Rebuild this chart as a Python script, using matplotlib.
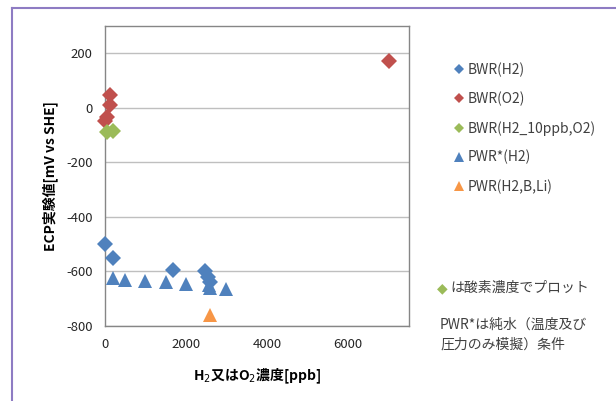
import matplotlib
matplotlib.use("Agg")
import matplotlib.pyplot as plt
from matplotlib.lines import Line2D

plt.rcParams['font.family'] = ['Noto Sans CJK JP', 'DejaVu Sans']
plt.rcParams['axes.unicode_minus'] = False

bwr_h2_x = [0, 190, 1680, 2460, 2550, 2600]
bwr_h2_y = [-500, -550, -595, -600, -620, -640]

bwr_o2_x = [120, 120, 40, 0, 7000]
bwr_o2_y = [48, 10, -32, -50, 170]

bwr_mix_x = [50, 200]
bwr_mix_y = [-87, -85]

pwr_h2_x = [190, 490, 985, 1500, 1990, 2560, 2600, 2975]
pwr_h2_y = [-625, -632, -635, -638, -647, -650, -660, -663]

pwr_bli_x = [2580]
pwr_bli_y = [-760]

series_names = ["BWR(H2)", "BWR(O2)", "BWR(H2_10ppb,O2)", "PWR*(H2)", "PWR(H2,B,Li)"]
series_colors = ["#4F81BD", "#C0504D", "#9BBB59", "#4F81BD", "#F79646"]
series_markers = ["D", "D", "D", "^", "^"]

y_ticks = [-800, -600, -400, -200, 0, 200]
x_ticks = [0, 2000, 4000, 6000]

fig = plt.figure(figsize=(6.16, 4.01), dpi=100)
ax = fig.add_axes([105 / 616, 1 - 326 / 401, 304 / 616, 300 / 401])

data = [(bwr_h2_x, bwr_h2_y), (bwr_o2_x, bwr_o2_y), (bwr_mix_x, bwr_mix_y),
        (pwr_h2_x, pwr_h2_y), (pwr_bli_x, pwr_bli_y)]
for (xs, ys), name, c, m in zip(data, series_names, series_colors, series_markers):
    ms = 8 if m == "D" else 10
    ax.plot(xs, ys, linestyle="none", marker=m, color=c, markersize=ms,
            markeredgewidth=0, label=name, clip_on=False, zorder=3)

ax.set_xlim(0, 7500)
ax.set_ylim(-800, 300)
ax.set_xticks(x_ticks)
ax.set_yticks(y_ticks)
ax.yaxis.grid(True, color="#BFBFBF", linewidth=1)
ax.set_axisbelow(True)
ax.tick_params(length=0, labelsize=9.5, labelcolor="#262626", pad=9)
for s in ax.spines.values():
    s.set_color("#868686")
    s.set_linewidth(1)

ax.set_ylabel("ECP実験値[mV vs SHE]", fontsize=10, fontweight="bold", labelpad=6)
ax.set_xlabel("H$_2$又はO$_2$濃度[ppb]", fontsize=10, fontweight="bold", labelpad=11)

leg = ax.legend(loc="upper left", bbox_to_anchor=(1.10, 0.92), frameon=False,
                fontsize=10, handletextpad=0.1, labelspacing=1.05, markerscale=0.7,
                handlelength=1.0)
for t in leg.get_texts():
    t.set_color("#404040")

fig.text(437 / 616, 1 - 288 / 401, "◆", color="#9BBB59", fontsize=10, va="center",
         family=['DejaVu Sans'])
fig.text(450 / 616, 1 - 288 / 401, "は酸素濃度でプロット", color="#404040",
         fontsize=10, va="center")
fig.text(440 / 616, 1 - 325 / 401, "PWR*は純水（温度及び", color="#404040",
         fontsize=10, va="center")
fig.text(440 / 616, 1 - 345 / 401, "圧力のみ模擬）条件", color="#404040",
         fontsize=10, va="center")

# purple frame of the embedded chart
frame = "#8E7CC3"
fig.add_artist(Line2D([12 / 616, 1], [1 - 8 / 401, 1 - 8 / 401],
                      transform=fig.transFigure, color=frame, linewidth=1.5))
fig.add_artist(Line2D([12 / 616, 12 / 616], [0, 1 - 8 / 401],
                      transform=fig.transFigure, color=frame, linewidth=1.5))

fig.savefig("out.png", dpi=100)
